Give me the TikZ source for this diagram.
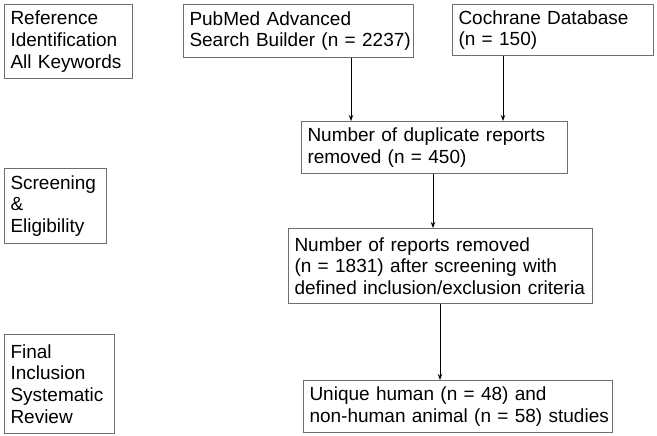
\documentclass[tikz,border=0pt]{standalone}
\usepackage{fontspec}
\setmainfont{Liberation Sans}
\usetikzlibrary{arrows.meta}
\definecolor{boxline}{RGB}{110,110,110}
\newcommand{\tl}[1]{\mbox{#1}}
\tikzset{
  fbox/.style args={#1x#2}{draw=boxline, line width=1pt, anchor=north west,
    inner xsep=6pt, inner ysep=0pt, text width=#1pt-12pt, minimum width=#1pt,
    minimum height=#2pt, align=left,
    font=\fontsize{19pt}{21.7pt}\selectfont},
  arr/.style={line width=1pt, -{Stealth[length=6pt,width=4.5pt]}}
}
\begin{document}
\begin{tikzpicture}[x=1pt,y=-1pt]
\useasboundingbox (0,0) rectangle (657,436);
\node[fbox=128x74] (ref) at (4,4) {\tl{Reference}\\\tl{Identification}\\\tl{All Keywords}};
\node[fbox=230x53] (pub) at (183,4) {\tl{PubMed Advanced}\\\tl{Search Builder (n = 2237)}};
\node[fbox=201x51] (coch) at (452,4) {\tl{Cochrane Database}\\\tl{(n = 150)}};
\node[fbox=266x52] (dup) at (301,121) {\tl{Number of duplicate reports}\\\tl{removed (n = 450)}};
\node[fbox=102x75] (scr) at (4,168) {\tl{Screening}\\\tl{\&}\\\tl{Eligibility}};
\node[fbox=304x75] (rep) at (288,228) {\tl{Number of reports removed}\\\tl{(n = 1831) after screening with}\\\tl{defined inclusion/exclusion criteria}};
\node[fbox=309x52] (uni) at (303,380) {\tl{Unique human (n = 48) and}\\\tl{non-human animal (n = 58) studies}};
\node[fbox=110x99] (fin) at (4,334) {\tl{Final}\\\tl{Inclusion}\\\tl{Systematic}\\\tl{Review}};
\coordinate (xa) at (351,0);
\coordinate (xb) at (503,0);
\coordinate (xc) at (433,0);
\coordinate (xd) at (440,0);
\draw[arr] (xa |- pub.south) -- (xa |- dup.north);
\draw[arr] (xb |- coch.south) -- (xb |- dup.north);
\draw[arr] (xc |- dup.south) -- (xc |- rep.north);
\draw[arr] (xd |- rep.south) -- (xd |- uni.north);
\end{tikzpicture}
\end{document}
